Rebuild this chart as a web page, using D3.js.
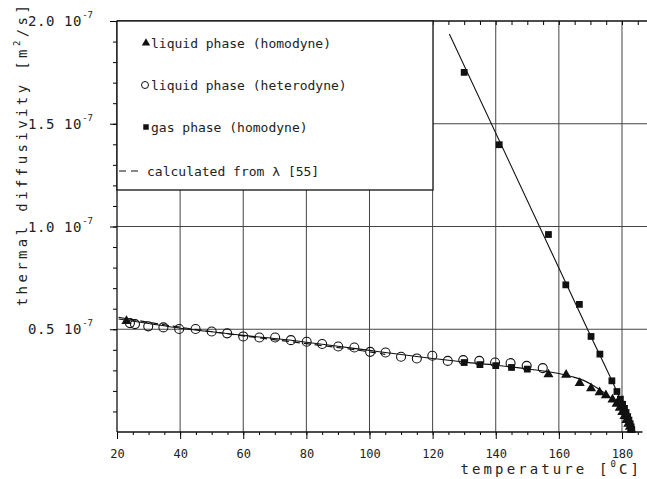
<!DOCTYPE html>
<html>
<head>
<meta charset="utf-8">
<script src="https://cdn.jsdelivr.net/npm/d3@7"></script>
<style>
    body { margin: 0; background: #fff; }
    text { font-family: "DejaVu Sans Mono", monospace; fill: #222; }
</style>
</head>
<body>
<div id="chart"></div>
<script>
// temperature [C], thermal diffusivity [1e-7 m2/s]
const liquidHomodyne = [
    [23, 0.54], [156.7, 0.28], [162.3, 0.278], [166.6, 0.238], [170.2, 0.213], [172.9, 0.193],
    [174.9, 0.178], [177, 0.158], [178.3, 0.137], [179.3, 0.117], [180.1, 0.097],
    [180.8, 0.077], [181.4, 0.058], [182, 0.04], [182.5, 0.025], [182.9, 0.012]
];
const liquidHeterodyne = [
    [24.1, 0.53], [25.7, 0.525], [29.9, 0.514], [34.7, 0.509], [39.7, 0.501], [44.9, 0.501],
    [50, 0.489], [54.9, 0.48], [60, 0.465], [65.1, 0.46], [70.1, 0.46], [75.1, 0.447],
    [80.1, 0.439], [85, 0.428], [90.1, 0.416], [95.2, 0.411], [100.2, 0.39], [105.1, 0.387],
    [110, 0.366], [115, 0.358], [119.9, 0.371], [124.8, 0.346], [129.7, 0.35], [134.8, 0.346],
    [139.8, 0.338], [144.7, 0.335], [149.8, 0.322], [154.9, 0.311]
];
const gasHomodyne = [
    [130, 0.338], [135, 0.328], [140, 0.323], [145, 0.314], [150, 0.306],
    [130, 1.75], [141.1, 1.398], [156.7, 0.961], [162.2, 0.716], [166.5, 0.621],
    [170.2, 0.465], [173, 0.379], [176.8, 0.249], [178.4, 0.197], [179.5, 0.16],
    [180.2, 0.135], [180.8, 0.115], [181.3, 0.095], [181.8, 0.075], [182.2, 0.058],
    [182.6, 0.04], [182.9, 0.025], [183.1, 0.012]
];
const liquidFit = [
    [20.5, 0.55], [30, 0.528], [40, 0.505], [50, 0.488], [60, 0.47], [70, 0.455],
    [80, 0.437], [90, 0.417], [100, 0.397], [110, 0.377], [120, 0.358], [130, 0.34],
    [140, 0.325], [150, 0.307], [156, 0.295], [160, 0.285], [164, 0.27], [168, 0.25],
    [171, 0.225], [174, 0.195], [176.5, 0.165], [178.5, 0.135], [180.5, 0.1],
    [182, 0.06], [183, 0.025], [183.6, 0]
];
const gasFit = [[125.3, 1.937], [170, 0.47], [176.8, 0.25], [180, 0.14], [183.3, 0]];
const calculated = [[20.5, 0.558], [40, 0.51], [60, 0.468], [80, 0.43], [100, 0.39], [105, 0.378]];

const xTicks = [20, 40, 60, 80, 100, 120, 140, 160, 180];
const yTicks = [0.5, 1.0, 1.5, 2.0];
const legendLabels = ["liquid phase (homodyne)", "liquid phase (heterodyne)", "gas phase (homodyne)", "calculated from λ [55]"];

const width = 647, height = 479;
const plotLeft = 117, plotRight = 642.5, plotTop = 21, plotBottom = 432;

const x = d3.scaleLinear().domain([20, 186.5]).range([plotLeft, plotRight]);
const y = d3.scaleLinear().domain([0, 2.0]).range([plotBottom, plotTop]);

const svg = d3.select("#chart").append("svg")
    .attr("width", width)
    .attr("height", height);

// grid lines
svg.append("g").selectAll("line")
    .data(xTicks.slice(1))
    .enter().append("line")
    .attr("x1", d => x(d)).attr("x2", d => x(d))
    .attr("y1", plotTop).attr("y2", plotBottom)
    .attr("stroke", "#444").attr("stroke-width", 1);
svg.append("g").selectAll("line")
    .data(yTicks.slice(0, 3))
    .enter().append("line")
    .attr("x1", plotLeft).attr("x2", width)
    .attr("y1", d => y(d)).attr("y2", d => y(d))
    .attr("stroke", "#444").attr("stroke-width", 1);

// bottom axis with minor ticks every 5 deg
const xMinor = d3.range(20, 186, 5);
svg.append("g")
    .attr("transform", `translate(0,${plotBottom})`)
    .call(d3.axisBottom(x).tickValues(xMinor).tickSize(3).tickFormat(""))
    .call(g => g.select(".domain").remove());
const xAxis = svg.append("g")
    .attr("transform", `translate(0,${plotBottom})`)
    .call(d3.axisBottom(x).tickValues(xTicks).tickSize(7).tickPadding(10));
xAxis.select(".domain").remove();
xAxis.selectAll("text")
    .attr("font-family", "\"DejaVu Sans Mono\", monospace")
    .attr("font-size", 12)
    .attr("fill", "#222");

// top axis: inward minor ticks
svg.append("g")
    .attr("transform", `translate(0,${plotTop})`)
    .call(d3.axisBottom(x).tickValues(xMinor).tickSize(4).tickFormat(""))
    .call(g => g.select(".domain").remove());

// left axis with minor ticks every 0.1
svg.append("g")
    .attr("transform", `translate(${plotLeft},0)`)
    .call(d3.axisLeft(y).tickValues(d3.range(0.1, 2.0, 0.1)).tickSize(4).tickFormat(""))
    .call(g => g.select(".domain").remove());
const yAxis = svg.append("g")
    .attr("transform", `translate(${plotLeft},0)`)
    .call(d3.axisLeft(y).tickValues(yTicks).tickSize(7).tickFormat(""));
yAxis.select(".domain").remove();

const yLabels = svg.append("g").selectAll("text")
    .data(yTicks)
    .enter().append("text")
    .attr("x", 93)
    .attr("y", d => y(d) + 5)
    .attr("text-anchor", "end")
    .attr("font-size", 14)
    .attr("letter-spacing", 0.6);
yLabels.append("tspan").text(d => d.toFixed(1) + " 10");
yLabels.append("tspan")
    .attr("font-size", 9)
    .attr("dy", -8)
    .attr("letter-spacing", 0)
    .text("-7");

// frame lines
svg.append("line")
    .attr("x1", plotLeft).attr("x2", width).attr("y1", plotTop).attr("y2", plotTop)
    .attr("stroke", "#111").attr("stroke-width", 1.3);
svg.append("line")
    .attr("x1", plotLeft).attr("x2", plotRight).attr("y1", plotBottom).attr("y2", plotBottom)
    .attr("stroke", "#111").attr("stroke-width", 1.3);
svg.append("line")
    .attr("x1", plotLeft).attr("x2", plotLeft).attr("y1", plotTop).attr("y2", plotBottom)
    .attr("stroke", "#111").attr("stroke-width", 1.3);

// fitted curves
const line = d3.line()
    .x(d => x(d[0]))
    .y(d => y(d[1]))
    .curve(d3.curveMonotoneX);

svg.append("path").datum(liquidFit)
    .attr("d", line)
    .attr("fill", "none").attr("stroke", "#111").attr("stroke-width", 1.1);
svg.append("path").datum(gasFit)
    .attr("d", line)
    .attr("fill", "none").attr("stroke", "#111").attr("stroke-width", 1.1);
svg.append("path").datum(calculated)
    .attr("d", line)
    .attr("fill", "none").attr("stroke", "#111").attr("stroke-width", 1.2)
    .attr("stroke-dasharray", "7,4");

// markers
const triangle = d3.symbol().type(d3.symbolTriangle).size(44);
const square = d3.symbol().type(d3.symbolSquare).size(46);

svg.append("g").selectAll("circle")
    .data(liquidHeterodyne)
    .enter().append("circle")
    .attr("cx", d => x(d[0]))
    .attr("cy", d => y(d[1]))
    .attr("r", 4.5)
    .attr("fill", "none")
    .attr("stroke", "#111")
    .attr("stroke-width", 1.1);

svg.append("g").selectAll("path")
    .data(liquidHomodyne)
    .enter().append("path")
    .attr("d", triangle)
    .attr("transform", d => `translate(${x(d[0])},${y(d[1])})`)
    .attr("fill", "#111");

svg.append("g").selectAll("path")
    .data(gasHomodyne)
    .enter().append("path")
    .attr("d", square)
    .attr("transform", d => `translate(${x(d[0])},${y(d[1])})`)
    .attr("fill", "#111");

// legend box
const legend = svg.append("g");
legend.append("rect")
    .attr("x", plotLeft).attr("y", plotTop)
    .attr("width", 316).attr("height", 169)
    .attr("fill", "#fff")
    .attr("stroke", "#111").attr("stroke-width", 1.3);

const rowY = [43, 85, 127, 171];
legend.append("path")
    .attr("d", d3.symbol().type(d3.symbolTriangle).size(30))
    .attr("transform", `translate(146,${rowY[0]})`)
    .attr("fill", "#111");
legend.append("circle")
    .attr("cx", 145).attr("cy", rowY[1]).attr("r", 3.5)
    .attr("fill", "none").attr("stroke", "#111").attr("stroke-width", 1);
legend.append("path")
    .attr("d", d3.symbol().type(d3.symbolSquare).size(30))
    .attr("transform", `translate(146,${rowY[2]})`)
    .attr("fill", "#111");
legend.append("line")
    .attr("x1", 119).attr("x2", 142)
    .attr("y1", rowY[3]).attr("y2", rowY[3])
    .attr("stroke", "#111").attr("stroke-width", 1.2)
    .attr("stroke-dasharray", "7,5");

legend.selectAll("text.label")
    .data(legendLabels)
    .enter().append("text")
    .attr("class", "label")
    .attr("x", (d, i) => i === 3 ? 147 : 151)
    .attr("y", (d, i) => rowY[i] + 5)
    .attr("font-size", 13)
    .text(d => d);

// axis titles
const xTitle = svg.append("text")
    .attr("x", 642)
    .attr("y", 474)
    .attr("text-anchor", "end")
    .attr("font-size", 14)
    .attr("letter-spacing", 3.1);
xTitle.append("tspan").text("temperature [");
xTitle.append("tspan").attr("font-size", 9).attr("dy", -7).text("0");
xTitle.append("tspan").attr("dy", 7).text("C]");

const yTitle = svg.append("text")
    .attr("transform", "translate(27,154) rotate(-90)")
    .attr("text-anchor", "middle")
    .attr("font-size", 14)
    .attr("letter-spacing", 3.4);
yTitle.append("tspan").text("thermal diffusivity [m");
yTitle.append("tspan").attr("font-size", 9).attr("dy", -7).text("2");
yTitle.append("tspan").attr("dy", 7).text("/s]");
</script>
</body>
</html>
